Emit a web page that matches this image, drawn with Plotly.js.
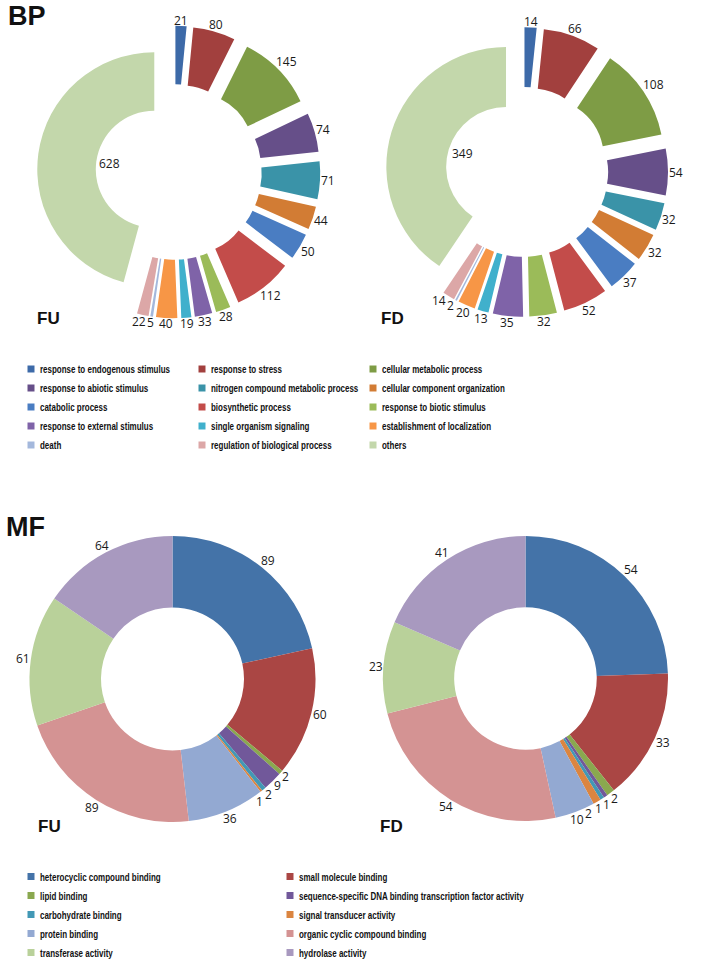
<!DOCTYPE html>
<html><head><meta charset="utf-8">
<script src="https://cdn.plot.ly/plotly-3.0.1.min.js"></script>
<style>
html,body{margin:0;padding:0;background:#fff}
/* condensed (Calibri-like) legend text, small square keys, no clipping of long entries */
#chart .legendtext, #chart .legend2text{transform-box:fill-box;transform-origin:0% 50%;transform:scaleX(0.726)}
#chart .legendpie{d:path('M3.5,3.5H-3.5V-3.5H3.5Z');transform:translate(31px,0px)}
#chart g.scrollbox{clip-path:none}
</style>
</head><body><div id="chart" style="width:708px;height:959px"></div>
<script>
// ---- data ----
const bpLabels = ['response to endogenous stimulus','response to stress','cellular metabolic process',
  'response to abiotic stimulus','nitrogen compound metabolic process','cellular component organization',
  'catabolic process','biosynthetic process','response to biotic stimulus',
  'response to external stimulus','single organism signaling','establishment of localization',
  'death','regulation of biological process','others'];
const bpFU = [21, 80, 145, 74, 71, 44, 50, 112, 28, 33, 19, 40, 5, 22, 628];
const bpFD = [14, 66, 108, 54, 32, 32, 37, 52, 32, 35, 13, 20, 2, 14, 349];
const bpColors = ['#3d6aa8','#a2403e','#7e9c45','#664f89','#3a93a8','#d27c34','#4a7dc2','#c34c4a',
  '#9bbb59','#7f63a8','#40b0cc','#f79646','#a4b8dc','#dca7a7','#c3d7ab'];

const mfLabels = ['heterocyclic compound binding','small molecule binding','lipid binding',
  'sequence-specific DNA binding transcription factor activity','carbohydrate binding','signal transducer activity',
  'protein binding','organic cyclic compound binding','transferase activity','hydrolase activity'];
const mfFU = [89, 60, 2, 9, 2, 1, 36, 89, 61, 64];
const mfFD = [54, 33, 2, 1, 1, 2, 10, 54, 23, 41];
const mfColors = ['#4473a8','#aa4644','#8aa84f','#71589a','#4298b5','#db8540','#93a9d2','#d49393','#b9d19a','#a899bf'];

const panelNames = ['BP', 'MF'];
const groupNames = ['FU', 'FD'];

// ---- layout helpers (pixel -> paper) ----
const W = 708, H = 959;
const M = {l: 0, r: 40, t: 0, b: 0, autoexpand: false};
const PW = W - M.l - M.r, PH = H - M.t - M.b;
const fx = px => (px - M.l) / PW;
const fy = py => 1 - (py - M.t) / PH;
function dom(cx, cy, half) {
  return {x: [fx(cx - half), fx(cx + half)], y: [fy(cy + half), fy(cy - half)]};
}

const labelFont = {family: 'Open Sans, DejaVu Sans, sans-serif', size: 12, color: '#1a1a1a'};
const legendFont = {family: 'Liberation Sans, Arial, sans-serif', size: 11, color: '#111', weight: 'bold'};

function bpTrace(values, pullRest, pullOthers, cx, cy, R) {
  const maxPull = Math.max(pullRest, pullOthers);
  return {
    type: 'pie', labels: bpLabels, values: values, sort: false, direction: 'clockwise', rotation: 0,
    hole: 0.5, marker: {colors: bpColors, line: {width: 0}},
    pull: bpLabels.map(l => l === 'others' ? pullOthers : pullRest),
    textinfo: 'none',
    domain: dom(cx, cy, R * (1 + maxPull)), legend: 'legend', showlegend: true, hoverinfo: 'label+value'
  };
}
function mfTrace(values, cx, cy, R) {
  return {
    type: 'pie', labels: mfLabels, values: values, sort: false, direction: 'clockwise', rotation: 0,
    hole: 0.5, marker: {colors: mfColors, line: {width: 0}},
    textinfo: 'none',
    domain: dom(cx, cy, R), legend: 'legend2', showlegend: true, hoverinfo: 'label+value'
  };
}

const seriesValues = [bpFU, bpFD, mfFU, mfFD];
const traces = [
  bpTrace(bpFU, 0.25, 0.17, 174, 172, 117),
  bpTrace(bpFD, 0.21, 0.15, 526, 172, 122),
  mfTrace(mfFU, 172.5, 679, 143),
  mfTrace(mfFD, 528, 678.5, 145)
];

function ann(text, px, py, size) {
  return {text: text, x: fx(px), y: fy(py), xref: 'paper', yref: 'paper', xanchor: 'left', yanchor: 'middle',
    showarrow: false, font: {family: 'Liberation Sans, Arial, sans-serif', size: size, color: '#111', weight: 'bold'}};
}

const layout = {
  width: W, height: H, margin: M, paper_bgcolor: '#fff', plot_bgcolor: '#fff',
  font: {family: 'Open Sans, sans-serif', color: '#1a1a1a'},
  legend: {orientation: 'h', x: fx(0), y: fy(354.5), xanchor: 'left', yanchor: 'top',
    entrywidth: 126, entrywidthmode: 'pixels', font: legendFont, bgcolor: 'rgba(0,0,0,0)', traceorder: 'normal'},
  legend2: {orientation: 'h', x: fx(0), y: fy(862), xanchor: 'left', yanchor: 'top',
    entrywidth: 214, entrywidthmode: 'pixels', font: legendFont, bgcolor: 'rgba(0,0,0,0)', traceorder: 'normal'},
  annotations: [
    ann(panelNames[0], 6, 16, 27),
    ann(panelNames[1], 4, 527, 27),
    ann(groupNames[0], 35, 318.5, 17),
    ann(groupNames[1], 379, 318.5, 17),
    ann(groupNames[0], 36, 826.5, 17),
    ann(groupNames[1], 378, 826.5, 17)
  ]
};

// value labels placed from the library's own slice geometry (calcdata)
function valueLabels(gd) {
  const out = [];
  gd.calcdata.forEach((cd, t) => {
    const cd0 = cd[0], tr = cd0.trace, r = cd0.r;
    const vals = seriesValues[t];
    const placed = [];
    cd.forEach(pt => {
      const j = pt.i;
      const txt = String(vals[j]);
      const w = 7 * txt.length + 1, h = 11;
      const inner = pt.label === 'others';
      const pull = Array.isArray(tr.pull) ? (+tr.pull[j] || 0) : (+tr.pull || 0);
      const pcx = (pt.cxFinal !== undefined) ? pt.cxFinal : cd0.cx + pull * pt.pxmid[0];
      const pcy = (pt.cyFinal !== undefined) ? pt.cyFinal : cd0.cy + pull * pt.pxmid[1];
      let a = Math.atan2(pt.pxmid[0], -pt.pxmid[1]);
      let X, Y, tries = 0;
      while (true) {
        const ux = Math.sin(a), uy = -Math.cos(a);
        const ext = 0.5 * (w * Math.abs(ux) + h * Math.abs(uy));
        const d = inner ? tr.hole * r - 2 - ext : r + ext;
        X = pcx + ux * d; Y = pcy + uy * d;
        const hit = placed.some(b => Math.abs(b.X - X) < (b.w + w) / 2 && Math.abs(b.Y - Y) < (b.h + h) / 2);
        if (!hit || tries > 80) break;
        a += Math.PI / 360; tries++;
      }
      placed.push({X: X, Y: Y, w: w, h: h});
      out.push({text: txt, x: fx(X), y: fy(Y), xref: 'paper', yref: 'paper', xanchor: 'center', yanchor: 'middle',
        showarrow: false, font: labelFont});
    });
  });
  return out;
}

const gd = document.getElementById('chart');
Plotly.newPlot(gd, traces, layout, {displayModeBar: false, staticPlot: true}).then(() => {
  return Plotly.relayout(gd, {annotations: layout.annotations.concat(valueLabels(gd))});
});
</script></body></html>
